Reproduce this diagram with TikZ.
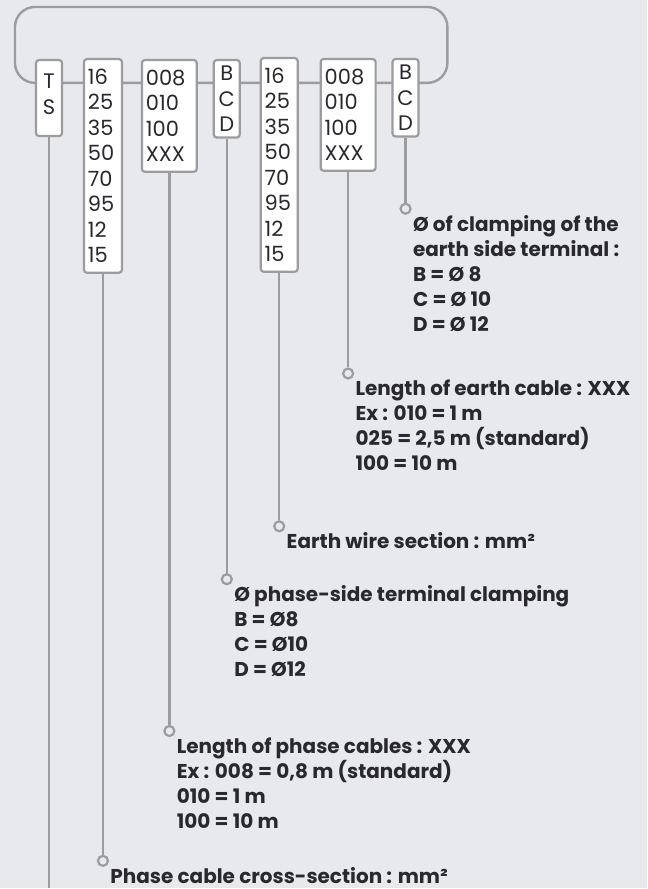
\documentclass[tikz,border=0pt]{standalone}
\usepackage{fontspec}
\setmainfont{Poppins}
\usetikzlibrary{positioning}
\definecolor{bg}{HTML}{E8E9ED}
\definecolor{leadgray}{HTML}{9C9CA0}
\definecolor{ink}{HTML}{29282C}

\begin{document}
\begin{tikzpicture}[x=1pt,y=-1pt,
  cell/.style={draw=leadgray,line width=2.2pt,fill=white,rounded corners=3pt,anchor=north west,align=left,text=ink,inner xsep=4pt,inner ysep=10pt,font=\fontsize{21}{25.5}\selectfont},
  cellc/.style={cell,align=center,inner ysep=6pt,minimum width=26pt},
  dot/.style={circle,draw=leadgray,line width=2.2pt,fill=bg,minimum size=10pt,inner sep=0pt},
  lbl/.style={anchor=north west,align=left,inner sep=0pt,text=ink,font=\fontsize{20}{25}\selectfont\bfseries},
  lead/.style={leadgray,line width=2.4pt}]
\fill[bg] (0,0) rectangle (648,889);
\draw[lead,rounded corners=20pt] (15,7) rectangle (448,83);
% code boxes
\node[cellc,inner ysep=14pt,text depth=8pt] (ts) at (35,59) {T\\S};
\node[cell,text width=30pt] (sp) at (83,58) {16\\25\\35\\50\\70\\95\\12\\15};
\node[cell,text width=47pt] (lp) at (141,59) {008\\010\\100\\XXX};
\node[cellc] (cp) at (213,59) {B\\C\\D};
\node[cell,text width=29pt] (se) at (260,57) {16\\25\\35\\50\\70\\95\\12\\15};
\node[cell,text width=47pt] (le) at (320,58) {008\\010\\100\\XXX};
\node[cellc] (ce) at (392,58) {B\\C\\D};
% leader ends
\node[dot] (dce) at (ce.south |- 0,209) {};
\node[dot] (dle) at (le.south |- 0,374) {};
\node[dot] (dse) at (se.south |- 0,527) {};
\node[dot] (dcp) at (cp.south |- 0,580) {};
\node[dot] (dlp) at (lp.south |- 0,732) {};
\node[dot] (dsp) at (sp.south |- 0,862) {};
\coordinate (tsend) at (ts.south |- 0,889);
\foreach \a/\b in {ce/dce,le/dle,se/dse,cp/dcp,lp/dlp,sp/dsp,ts/tsend} \draw[lead] (\a.south)--(\b);
% texts
\node[lbl,below right=2pt and 3pt of dce] (tce) {Ø of clamping of the\\earth side terminal :\\B = Ø 8\\C = Ø 10\\D = Ø 12};
\node[lbl,below right=2pt and 3pt of dle] (tle) {Length of earth cable : XXX\\Ex : 010 = 1 m\\025 = 2,5 m (standard)\\100 = 10 m};
\node[lbl,below right=2pt and 3pt of dse] (tse) {Earth wire section : mm²};
\node[lbl,below right=2pt and 3pt of dcp] (tcp) {Ø phase-side terminal clamping\\B = Ø8\\C = Ø10\\D = Ø12};
\node[lbl,below right=2pt and 3pt of dlp] (tlp) {Length of phase cables : XXX\\Ex : 008 = 0,8 m (standard)\\010 = 1 m\\100 = 10 m};
\node[lbl,below right=2pt and 3pt of dsp] (tsp) {Phase cable cross-section : mm²};
\end{tikzpicture}
\end{document}
